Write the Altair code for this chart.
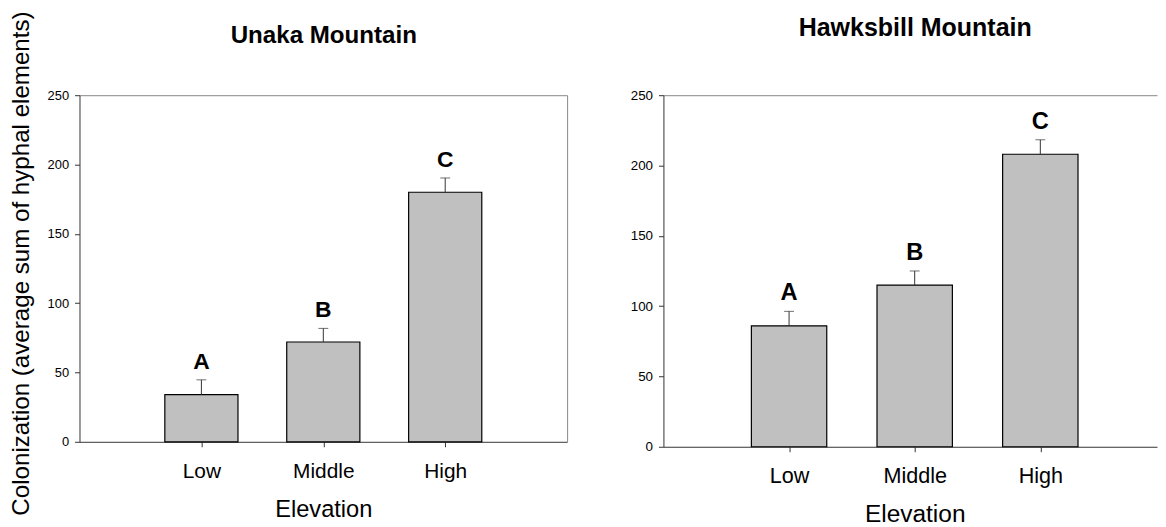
import json
import altair as alt
import pandas as pd

categories = ["Low", "Middle", "High"]
positions = [1, 2, 3]
y_ticks = [0, 50, 100, 150, 200, 250]

unaka_mean = [34, 72, 180]
unaka_se = [10.7, 9.8, 10.3]
unaka_letters = ["A", "B", "C"]

hawks_mean = [86, 115, 208]
hawks_se = [10.3, 10.0, 10.3]
hawks_letters = ["A", "B", "C"]

FONT = "Liberation Sans"
AXIS_COL = "#333333"
FRAME_COL = "#888888"
label_expr = json.dumps(categories) + "[datum.value - 1]"


def panel(mean, se, letters, title, title_x, title_y, width, height,
          x_max, y_title, frame_right, xtitle_x, k):
    df = pd.DataFrame({"pos": positions, "cat": categories, "mean": mean,
                       "se": se, "letter": letters})
    df["top"] = df["mean"] + df["se"]
    xs = alt.Scale(domain=[0, x_max], nice=False, zero=False)
    ys = alt.Scale(domain=[0, 250], nice=False)

    x_axis = alt.Axis(orient="bottom", values=positions, labelExpr=label_expr,
                      grid=False, tickSize=5, tickColor=AXIS_COL,
                      domainColor=AXIS_COL, labelColor="#000",
                      labelFontSize=21 * k, labelBaseline="alphabetic",
                      labelPadding=31, title="Elevation", titleFontSize=23.8 * k,
                      titleFontWeight="normal", titleColor="#000",
                      titleBaseline="alphabetic", titleX=xtitle_x, titleY=75.5)
    y_kw = dict(orient="left", values=y_ticks, grid=False, tickSize=5,
                tickColor=AXIS_COL, domainColor=AXIS_COL, labelColor="#000",
                labelFontSize=13 * k, labelPadding=6)
    if y_title:
        y_kw.update(title=y_title, titleFontSize=24.3, titleFontWeight="normal",
                    titleColor="#000", titleX=-51.5, titleY=169,
                    titleBaseline="alphabetic", titleAlign="center", titleAngle=270)
    else:
        y_kw.update(title=None)
    y_axis = alt.Axis(**y_kw)

    base = alt.Chart(df)
    bars = base.mark_bar(fill="#c0c0c0", stroke="#000", strokeWidth=1.2).transform_calculate(
        x1="datum.pos - 0.3", x2="datum.pos + 0.3"
    ).encode(
        x=alt.X("x1:Q", scale=xs, axis=x_axis),
        x2="x2:Q",
        y=alt.Y("mean:Q", scale=ys, axis=y_axis),
        y2=alt.datum(0),
    )
    rules = base.mark_rule(color=AXIS_COL, strokeWidth=1).encode(
        x=alt.X("pos:Q", scale=xs, axis=x_axis),
        y=alt.Y("mean:Q", scale=ys, axis=y_axis),
        y2="top:Q",
    )
    caps = base.mark_tick(orient="horizontal", size=10, thickness=1, color=AXIS_COL).encode(
        x=alt.X("pos:Q", scale=xs, axis=x_axis),
        y=alt.Y("top:Q", scale=ys, axis=y_axis),
    )
    text = base.mark_text(dy=-11, baseline="alphabetic", align="center", fontSize=23 * k,
                          fontWeight="bold", font=FONT, color="#000").encode(
        x=alt.X("pos:Q", scale=xs, axis=x_axis),
        y=alt.Y("top:Q", scale=ys, axis=y_axis),
        text="letter:N",
    )
    main = alt.layer(bars, rules, caps, text)

    top_axis = alt.Axis(orient="top", labels=False, ticks=False, grid=False,
                        domainColor=FRAME_COL, title=title, titleFontSize=24.3 * k,
                        titleFontWeight="bold", titleColor="#000",
                        titleBaseline="alphabetic", titleAlign="center",
                        titleX=title_x, titleY=title_y)
    if frame_right:
        y_frame = alt.Y("mean:Q", scale=ys,
                        axis=alt.Axis(orient="right", labels=False, ticks=False,
                                      grid=False, domainColor=FRAME_COL, title=None))
    else:
        y_frame = alt.Y("mean:Q", scale=ys, axis=y_axis)
    frame = base.mark_point(opacity=0).encode(
        x=alt.X("pos:Q", scale=xs, axis=top_axis),
        y=y_frame,
    )

    return alt.layer(main, frame).properties(width=width, height=height)


left = panel(unaka_mean, unaka_se, unaka_letters, "Unaka Mountain", 245.5, -53,
             491, 349, 4, "Colonization (average sum of hyphal elements)", True, 245.5, 1.0)
right = panel(hawks_mean, hawks_se, hawks_letters, "Hawksbill Mountain", 253, -60,
              497, 354, 497 / 126.5, None, False, 253, 1.035)

chart = alt.hconcat(left, right, spacing=97, bounds="flush").properties(
    padding={"left": 0, "top": 0, "right": 0, "bottom": 0}
).configure_view(stroke="transparent").configure_axis(
    labelFont=FONT, titleFont=FONT
).configure_text(font=FONT)

chart.save("out.html", embed_options={"renderer": "svg", "actions": False})
